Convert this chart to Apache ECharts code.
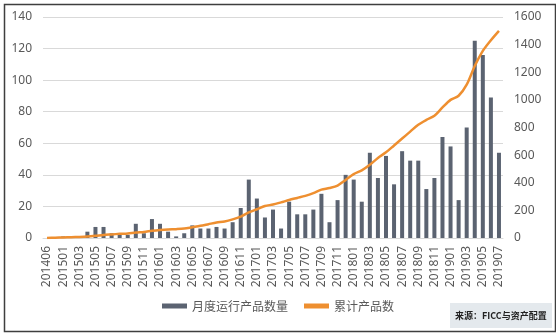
<!DOCTYPE html>
<html><head><meta charset="utf-8">
<script src="https://cdn.jsdelivr.net/npm/echarts@6/dist/echarts.min.js"></script>
<style>html,body{margin:0;padding:0;background:#fff}#c{width:556px;height:334px}</style>
</head><body><div id="c"></div>
<script>
const categories = ['201406','201412','201501','201502','201503','201504','201505','201506','201507','201508','201509','201510','201511','201512',
'201601','201602','201603','201604','201605','201606','201607','201608','201609','201610','201611','201612',
'201701','201702','201703','201704','201705','201706','201707','201708','201709','201710','201711','201712',
'201801','201802','201803','201804','201805','201806','201807','201808','201809','201810','201811','201812',
'201901','201902','201903','201904','201905','201906','201907'];
const monthlyCount = [0,0,1,1,1,4,7,7,3,2,2,9,3,12,9,4,1,3,8,6,6,7,6,10,19,37,25,13,18,6,23,15,15,18,28,10,24,40,37,23,54,38,52,34,55,49,49,31,38,64,58,24,70,125,116,89,54];
const cumulative = [0,2,4,6,8,11,16,22,26,30,33,40,44,52,58,62,64,68,78,88,100,112,120,135,155,185,208,232,242,258,275,290,305,325,350,362,380,420,462,490,530,580,620,670,720,770,820,855,885,945,1000,1030,1110,1245,1355,1432,1500];
const leftTicks = {min:0, max:140, interval:20};
const rightTicks = {min:0, max:1600, interval:200};

const chart = echarts.init(document.getElementById('c'), null, {renderer:'canvas'});
const txt = '#595959';
const ff = '"Noto Sans","Noto Sans CJK SC",sans-serif';
chart.setOption({
  animation:false,
  textStyle:{fontFamily:ff},
  grid:{left:43, right:53, top:17, bottom:96},
  legend:{
    bottom:17, left:'center', itemWidth:25, itemHeight:5, itemGap:16,
    textStyle:{color:txt, fontSize:12, fontFamily:'"Noto Sans CJK SC",sans-serif'},
    data:[{name:'月度运行产品数量', icon:'rect'},{name:'累计产品数', icon:'rect'}]
  },
  xAxis:{
    type:'category', data:categories, boundaryGap:true,
    axisLine:{show:true, lineStyle:{color:'#d9d9d9'}},
    axisTick:{show:false},
    axisLabel:{interval:1, rotate:90, color:txt, fontSize:12, margin:8}
  },
  yAxis:[
    {type:'value', min:leftTicks.min, max:leftTicks.max, interval:leftTicks.interval,
     axisLine:{show:false}, axisTick:{show:false},
     axisLabel:{color:txt, fontSize:12, margin:11, formatter:v=>String(v)},
     splitLine:{lineStyle:{color:'#d9d9d9'}}},
    {type:'value', min:rightTicks.min, max:rightTicks.max, interval:rightTicks.interval,
     axisLine:{show:false}, axisTick:{show:false},
     axisLabel:{color:txt, fontSize:12, margin:11, formatter:v=>String(v)},
     splitLine:{show:false}}
  ],
  series:[
    {name:'月度运行产品数量', type:'bar', data:monthlyCount, barWidth:4, itemStyle:{color:'#5b6371'}, yAxisIndex:0},
    {name:'累计产品数', type:'line', data:cumulative, yAxisIndex:1, symbol:'none', smooth:0.3,
     lineStyle:{color:'#ee8f30', width:2.5}, itemStyle:{color:'#ee8f30'}}
  ],
  graphic:[
    {type:'rect', left:2, top:2, shape:{x:0,y:0,width:551,height:327}, style:{fill:'none', stroke:'#3f3f3f', lineWidth:1.5}, z:100},
    {type:'rect', shape:{x:450,y:303,width:102,height:25}, style:{fill:'#e4e9ed'}, z:90},
    {type:'text', x:455, y:316, style:{text:'来源：FICC与资产配置', fill:'#222', font:'bold 9px "Noto Sans CJK SC",sans-serif', textVerticalAlign:'middle'}, z:95}
  ]
});
</script></body></html>
